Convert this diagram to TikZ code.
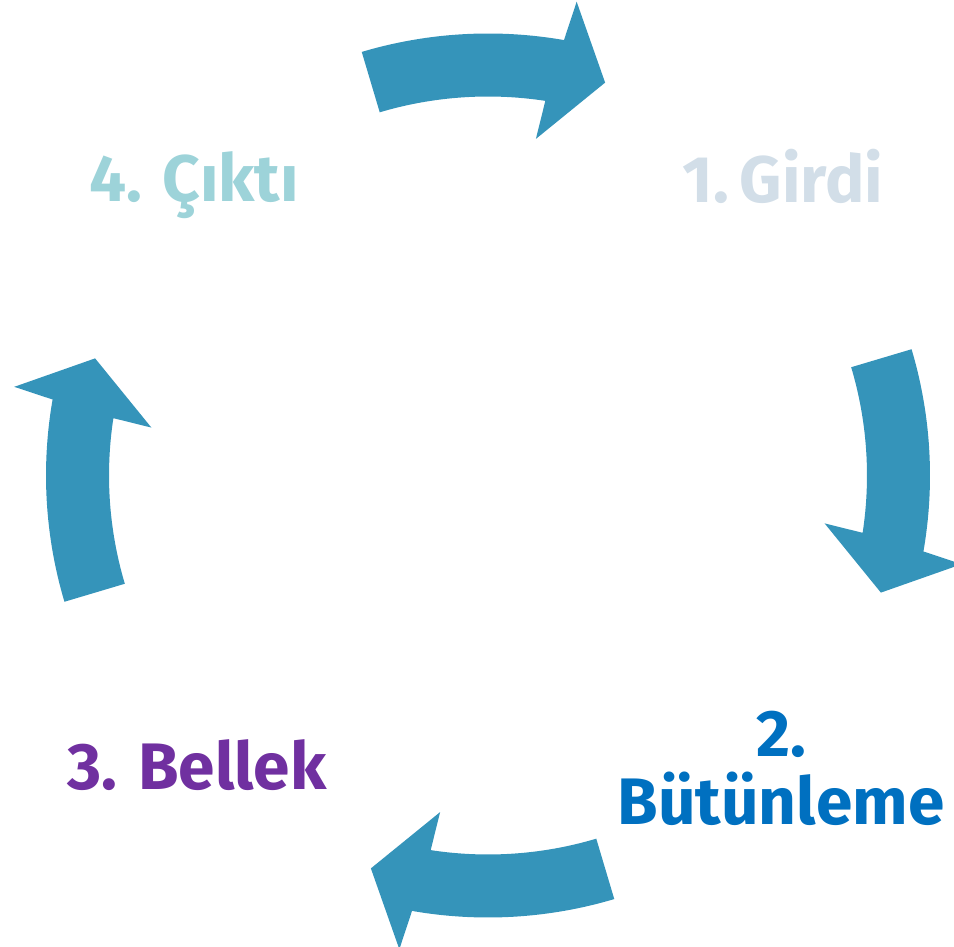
\documentclass[tikz,border=0pt]{standalone}
\usepackage{fontspec}
\setmainfont{Fira Sans}
\definecolor{arrowcol}{RGB}{53,148,186}
\definecolor{outcol}{RGB}{157,211,217}
\definecolor{incol}{RGB}{210,222,232}
\definecolor{memcol}{RGB}{112,48,160}
\definecolor{intcol}{RGB}{0,112,192}
\tikzset{
  lbl/.style={font=\fontsize{66}{72}\selectfont\bfseries, inner sep=0pt, anchor=base, align=center},
  cyclearrow/.style={fill=arrowcol}
}
\newcommand{\cyclearrowpath}{%
  (106.6:442) arc[start angle=106.6,end angle=80.1,radius=442]
  -- (79.4:482) -- (73.4:410) -- (81.9:340) -- (81.3:379)
  arc[start angle=81.3,end angle=106.6,radius=379] -- cycle}
\begin{document}
\begin{tikzpicture}[x=1bp,y=1bp]
\useasboundingbox (0,0) rectangle (954,947);
\foreach \r in {0,-90,-180,-270}{
  \begin{scope}[shift={(488,471.5)},rotate=\r]
    \fill[cyclearrow] \cyclearrowpath;
  \end{scope}
}
\node[lbl, text=outcol] (cikti) at (194,745) {4. Çıktı};
\node[lbl, text=incol] (girdi) at (783,744) {1.\,Girdi};
\node[lbl, text=memcol] (bellek) at (197,157) {3. Bellek};
\node[lbl, text=intcol] (butun2) at (781,190) {2.};
\node[lbl, text=intcol] (butun) at (781,122) {Bütünleme};
\end{tikzpicture}
\end{document}
